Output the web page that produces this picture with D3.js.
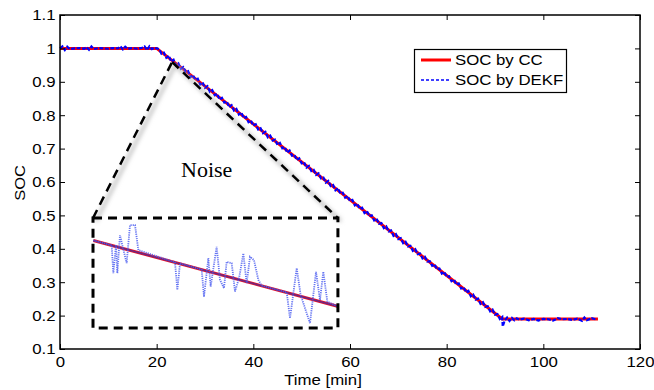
<!DOCTYPE html>
<html>
<head>
<meta charset="utf-8">
<script src="https://cdn.jsdelivr.net/npm/d3@7"></script>
<style>
  body { margin: 0; background: #fff; }
  svg { display: block; }
  text { font-family: "Liberation Sans", Arial, sans-serif; }
</style>
</head>
<body>
<div id="chart"></div>
<script>
// values
const ccTime = [0, 20, 91.5, 111.3];
const ccSoc = [1.0, 1.0, 0.19, 0.19];

// DEKF estimate: [time, soc]
const dekfPoints = [
  [0, 1.000], [0.5, 1.006], [1, 0.995], [1.5, 1.005], [2, 0.998], [3, 1.000], [4, 1.001],
  [5, 0.999], [5.5, 1.004], [6, 0.996], [6.5, 1.006], [7, 0.998], [8, 1.001], [9, 1.000],
  [10, 0.999], [11, 1.001], [12, 1.000], [12.5, 1.006], [13, 0.997], [13.5, 1.005], [14, 0.999],
  [15, 1.001], [16, 0.999], [17, 1.002], [17.5, 1.006], [18, 0.995], [18.5, 1.006], [19, 0.998],
  [19.5, 1.002], [20, 1.000],
  [20.5, 0.998], [21, 0.984], [21.5, 0.987], [22, 0.972], [22.5, 0.978], [23, 0.961], [23.5, 0.966],
  [24, 0.949], [24.5, 0.955], [25, 0.939], [25.5, 0.944], [26, 0.930], [26.5, 0.932], [27, 0.914],
  [27.5, 0.920], [28, 0.906], [28.5, 0.909], [29, 0.892], [29.5, 0.898], [30, 0.882], [30.5, 0.887],
  [31, 0.870], [31.5, 0.875], [32, 0.860], [32.5, 0.864], [33, 0.847], [33.5, 0.852], [34, 0.838],
  [34.5, 0.841], [35, 0.824], [35.5, 0.830], [36, 0.814], [36.5, 0.819], [37, 0.802], [37.5, 0.808],
  [38, 0.792], [38.5, 0.795], [39, 0.779], [39.5, 0.784], [40, 0.769], [40.5, 0.773], [41, 0.757],
  [41.5, 0.761], [42, 0.746], [42.5, 0.750], [43, 0.734], [43.5, 0.739], [44, 0.724], [44.5, 0.727],
  [45, 0.711], [45.5, 0.717], [46, 0.701], [46.5, 0.704], [47, 0.688], [47.5, 0.694], [48, 0.679],
  [48.5, 0.681], [49, 0.666], [49.5, 0.671], [50, 0.656], [50.5, 0.659], [51, 0.643], [51.5, 0.648],
  [52, 0.633], [52.5, 0.636], [53, 0.621], [53.5, 0.626], [54, 0.611], [54.5, 0.613], [55, 0.598],
  [55.5, 0.603], [56, 0.588], [56.5, 0.591], [57, 0.575], [57.5, 0.581], [58, 0.566], [58.5, 0.568],
  [59, 0.553], [59.5, 0.558], [60, 0.543], [60.5, 0.546], [61, 0.530], [61.5, 0.535], [62, 0.520],
  [62.5, 0.523], [63, 0.507], [63.5, 0.513], [64, 0.498], [64.5, 0.500], [65, 0.485], [65.5, 0.490],
  [66, 0.475], [66.5, 0.477], [67, 0.462], [67.5, 0.467], [68, 0.452], [68.5, 0.455], [69, 0.439],
  [69.5, 0.444], [70, 0.429], [70.5, 0.432], [71, 0.417], [71.5, 0.421], [72, 0.407], [72.5, 0.409],
  [73, 0.394], [73.5, 0.399], [74, 0.384], [74.5, 0.386], [75, 0.371], [75.5, 0.376], [76, 0.362],
  [76.5, 0.363], [77, 0.349], [77.5, 0.353], [78, 0.339], [78.5, 0.341], [79, 0.326], [79.5, 0.331],
  [80, 0.316], [80.5, 0.318], [81, 0.303], [81.5, 0.308], [82, 0.293], [82.5, 0.296], [83, 0.281],
  [83.5, 0.285], [84, 0.270], [84.5, 0.274], [85, 0.258], [85.5, 0.263], [86, 0.248], [86.5, 0.251],
  [87, 0.235], [87.5, 0.240], [88, 0.226], [88.5, 0.228], [89, 0.213], [89.5, 0.218], [90, 0.203],
  [90.5, 0.205], [91, 0.190], [91.5, 0.196], [91.6, 0.168],
  [92, 0.185], [92.5, 0.194], [93, 0.184], [93.5, 0.193], [94, 0.186], [94.5, 0.192], [95, 0.188],
  [96, 0.191], [97, 0.186], [98, 0.190], [99, 0.185], [100, 0.190], [101, 0.189], [102, 0.185],
  [103, 0.192], [104, 0.189], [105, 0.190], [106, 0.187], [107, 0.191], [108, 0.184], [108.5, 0.194],
  [109, 0.186], [110, 0.192], [111, 0.188]
];

// zoomed "Noise" inset, drawn in the main axes' units
const insetLineTime = [6.9, 57.4];
const insetLineSoc = [0.425, 0.228];
const insetNoiseTime = [6.9, 10.69, 11.03, 11.59, 11.86, 12.41, 12.97, 13.79, 14.48, 15.52, 16.21,
  23.79, 24.28, 24.83, 29.31, 29.79, 30.69, 31.17, 32.41, 33.10, 33.93, 34.48, 35.52, 36.21,
  37.10, 37.93, 38.62, 39.31, 40.14, 41.03, 41.72, 46.9, 47.59, 48.97, 49.79, 51.72, 52.97,
  53.79, 54.48, 55.31, 57.4];
const insetNoiseSoc = [0.425, 0.411, 0.327, 0.411, 0.327, 0.441, 0.406, 0.357, 0.471, 0.471, 0.396,
  0.360, 0.277, 0.357, 0.338, 0.257, 0.372, 0.287, 0.406, 0.307, 0.282, 0.361, 0.357, 0.272,
  0.316, 0.386, 0.297, 0.376, 0.366, 0.307, 0.290, 0.270, 0.192, 0.342, 0.262, 0.177, 0.331,
  0.247, 0.331, 0.242, 0.228];
const insetBox = { t0: 6.83, t1: 57.5, s0: 0.163, s1: 0.492 };
const apex = { t: 23.2, s: 0.959 };

const xTicks = [0, 20, 40, 60, 80, 100, 120];
const yTicks = [0.1, 0.2, 0.3, 0.4, 0.5, 0.6, 0.7, 0.8, 0.9, 1.0, 1.1];
const yTickLabels = ["0.1", "0.2", "0.3", "0.4", "0.5", "0.6", "0.7", "0.8", "0.9", "1", "1.1"];
const seriesNames = ["SOC by CC", "SOC by DEKF"];

const width = 654, height = 390;
const plotLeft = 60, plotRight = 640, plotTop = 15, plotBottom = 349;
const stretch = "scale(1.12,1)";   // the source text is a bit wide

const svg = d3.select("#chart")
    .append("svg")
    .attr("width", width)
    .attr("height", height);

const x = d3.scaleLinear().domain([0, 120]).range([plotLeft, plotRight]);
const y = d3.scaleLinear().domain([0.1, 1.1]).range([plotBottom, plotTop]);

const defs = svg.append("defs");
defs.append("filter")
    .attr("id", "blur")
    .attr("x", "-20%").attr("y", "-20%")
    .attr("width", "140%").attr("height", "140%")
    .append("feGaussianBlur")
    .attr("stdDeviation", 2);

const line = d3.line().x(d => x(d[0])).y(d => y(d[1]));

// main series
svg.append("path")
    .datum(d3.zip(ccTime, ccSoc))
    .attr("d", line)
    .attr("fill", "none")
    .attr("stroke", "#ff0000")
    .attr("stroke-width", 3);

svg.append("path")
    .datum(dekfPoints)
    .attr("d", line)
    .attr("fill", "none")
    .attr("stroke", "#0000ff")
    .attr("stroke-width", 2.2)
    .attr("stroke-dasharray", "4,1.5");

// connector lines to the inset
const connectors = [
    [[insetBox.t0, insetBox.s1], [apex.t, apex.s]],
    [[apex.t, apex.s], [insetBox.t1, insetBox.s1]]
];
svg.append("g")
    .attr("filter", "url(#blur)")
    .attr("transform", "translate(3,3)")
    .selectAll("path")
    .data(connectors)
    .join("path")
    .attr("d", line)
    .attr("stroke", "#bbb")
    .attr("stroke-width", 3)
    .attr("fill", "none");
svg.append("g")
    .selectAll("path")
    .data(connectors)
    .join("path")
    .attr("d", line)
    .attr("stroke", "#000")
    .attr("stroke-width", 2.5)
    .attr("stroke-dasharray", "9,6")
    .attr("fill", "none");

// inset contents
svg.append("path")
    .datum(d3.zip(insetLineTime, insetLineSoc))
    .attr("d", line)
    .attr("fill", "none")
    .attr("stroke", "#e8102a")
    .attr("stroke-width", 3);
svg.append("path")
    .datum(d3.zip(insetLineTime, insetLineSoc))
    .attr("d", line)
    .attr("fill", "none")
    .attr("stroke", "#4030a0")
    .attr("stroke-opacity", 0.75)
    .attr("stroke-width", 1.5);
svg.append("path")
    .datum(d3.zip(insetNoiseTime, insetNoiseSoc))
    .attr("d", line)
    .attr("fill", "none")
    .attr("stroke", "#4a5cf0")
    .attr("stroke-opacity", 0.85)
    .attr("stroke-width", 1.8)
    .attr("stroke-dasharray", "1.2,1");

svg.append("rect")
    .attr("x", x(insetBox.t0))
    .attr("y", y(insetBox.s1))
    .attr("width", x(insetBox.t1) - x(insetBox.t0))
    .attr("height", y(insetBox.s0) - y(insetBox.s1))
    .attr("fill", "none")
    .attr("stroke", "#000")
    .attr("stroke-width", 3)
    .attr("stroke-dasharray", "9,6");

svg.append("text")
    .attr("x", 181)
    .attr("y", 177)
    .style("font-family", "'Liberation Serif', 'Times New Roman', serif")
    .style("font-size", "22px")
    .text("Noise");

// axes, ticks inward on all four sides
const axisFont = g => g.selectAll("text")
    .style("font-family", "'Liberation Sans', Arial, sans-serif")
    .style("font-size", "15px")
    .attr("fill", "#000")
    .attr("transform", stretch);

svg.append("g")
    .attr("transform", `translate(0,${plotBottom})`)
    .call(d3.axisBottom(x).tickValues(xTicks).tickSize(-5).tickPadding(7).tickFormat(d3.format("d")))
    .call(axisFont)
    .call(g => g.select(".domain").remove());

svg.append("g")
    .attr("transform", `translate(0,${plotTop})`)
    .call(d3.axisTop(x).tickValues(xTicks).tickSize(-5).tickFormat(""))
    .call(g => g.select(".domain").remove());

svg.append("g")
    .attr("transform", `translate(${plotLeft},0)`)
    .call(d3.axisLeft(y).tickValues(yTicks).tickSize(-5).tickPadding(4)
        .tickFormat((d, i) => yTickLabels[i]))
    .call(axisFont)
    .call(g => g.select(".domain").remove());

svg.append("g")
    .attr("transform", `translate(${plotRight},0)`)
    .call(d3.axisRight(y).tickValues(yTicks).tickSize(-5).tickFormat(""))
    .call(g => g.select(".domain").remove());

svg.append("rect")
    .attr("x", plotLeft)
    .attr("y", plotTop)
    .attr("width", plotRight - plotLeft)
    .attr("height", plotBottom - plotTop)
    .attr("fill", "none")
    .attr("stroke", "#000")
    .attr("stroke-width", 1.5);

svg.append("text")
    .attr("transform", `translate(323,385) ${stretch}`)
    .attr("text-anchor", "middle")
    .style("font-size", "15px")
    .text("Time [min]");

svg.append("text")
    .attr("transform", "translate(25,183) rotate(-90) scale(1.1,1)")
    .attr("text-anchor", "middle")
    .style("font-size", "15px")
    .text("SOC");

// legend
const legend = svg.append("g");
legend.append("rect")
    .attr("x", 414.5).attr("y", 49.5)
    .attr("width", 152).attr("height", 43)
    .attr("fill", "#fff")
    .attr("stroke", "#000")
    .attr("stroke-width", 1.2);
const legendRows = legend.selectAll("g")
    .data(seriesNames)
    .join("g")
    .attr("transform", (d, i) => `translate(0,${60 + i * 20})`);
legendRows.append("line")
    .attr("x1", 421).attr("x2", 451)
    .attr("stroke", (d, i) => i === 0 ? "#ff0000" : "#0000ff")
    .attr("stroke-width", (d, i) => i === 0 ? 3 : 1.3)
    .attr("stroke-dasharray", (d, i) => i === 0 ? null : "3,2");
legendRows.append("text")
    .attr("transform", `translate(455,0) ${stretch}`)
    .attr("dy", "0.35em")
    .style("font-size", "15px")
    .text(d => d);
</script>
</body>
</html>
